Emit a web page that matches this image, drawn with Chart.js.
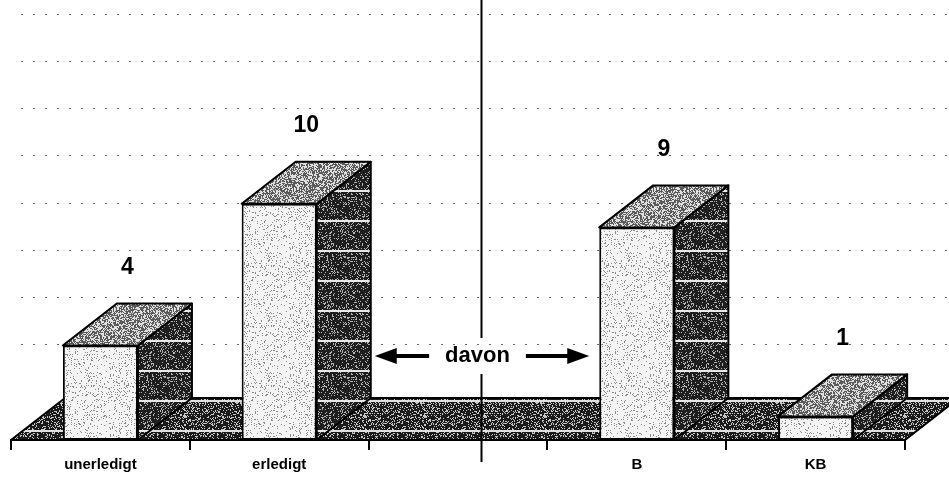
<!DOCTYPE html>
<html>
<head>
<meta charset="utf-8">
<script src="https://cdn.jsdelivr.net/npm/chart.js@4/dist/chart.umd.min.js"></script>
<style>
html, body { margin: 0; padding: 0; background: #fff; }
#wrap { width: 949px; height: 478px; }
</style>
</head>
<body>
<div id="wrap"><canvas id="chart" width="949" height="478"></canvas></div>
<script>
let categories = ['unerledigt', 'erledigt', '', 'B', 'KB'];
let counts = [4, 10, null, 9, 1];
let wall_grid_values = [2, 4, 6, 8, 10, 12, 14, 16];
let divider_label = 'davon';

// extrusion offset of the 3d boxes
let depth_x = 54, depth_y = -42;

let hash = function(x, y, seed) {
    let h = (x * 374761393 + y * 668265263 + seed * 982451653) | 0;
    h = Math.imul(h ^ (h >>> 13), 1274126177);
    h = h ^ (h >>> 16);
    return ((h >>> 0) % 1000) / 1000;
};

// stippled texture like the scanned original
let make_pattern = function(base, dot, density, seed, stripe) {
    let c = document.createElement('canvas');
    c.width = 60; c.height = 60;
    let g = c.getContext('2d');
    g.fillStyle = base;
    g.fillRect(0, 0, 60, 60);
    g.fillStyle = dot;
    for (let y = 0; y < 60; y++) {
        for (let x = 0; x < 60; x++) {
            if (hash(x, y, seed) < density) g.fillRect(x, y, 1, 1);
        }
    }
    if (stripe) {
        g.fillStyle = stripe;
        g.fillRect(0, 10, 60, 2);
        g.fillRect(0, 40, 60, 2);
    }
    return g.createPattern(c, 'repeat');
};

let front_fill = make_pattern('#f4f4f4', '#8a8a8a', 0.12, 1);
let side_fill = make_pattern('#1e1e1e', '#b5b5b5', 0.2, 2, '#e8e8e8');
let top_fill = make_pattern('#5a5a5a', '#e0e0e0', 0.45, 3);
let floor_fill = make_pattern('#1a1a1a', '#c8c8c8', 0.26, 4, '#e0e0e0');

let poly = function(ctx, pts, fill) {
    ctx.beginPath();
    ctx.moveTo(pts[0][0], pts[0][1]);
    for (let i = 1; i < pts.length; i++) ctx.lineTo(pts[i][0], pts[i][1]);
    ctx.closePath();
    ctx.fillStyle = fill;
    ctx.fill();
    ctx.stroke();
};

let arrow = function(ctx, from_x, to_x, y) {
    let dir = Math.sign(to_x - from_x);
    let head = 22;
    ctx.beginPath();
    ctx.moveTo(from_x, y - 2);
    ctx.lineTo(to_x - dir * head, y - 2);
    ctx.lineTo(to_x - dir * head, y - 8);
    ctx.lineTo(to_x, y);
    ctx.lineTo(to_x - dir * head, y + 8);
    ctx.lineTo(to_x - dir * head, y + 2);
    ctx.lineTo(from_x, y + 2);
    ctx.closePath();
    ctx.fill();
};

let box_plugin = {
    id: 'box3d',
    beforeDatasetsDraw(chart) {
        let ctx = chart.ctx, a = chart.chartArea, ys = chart.scales.y;
        let y0 = ys.getPixelForValue(0);
        ctx.save();
        // dotted grid on the back wall
        ctx.strokeStyle = '#666';
        ctx.lineWidth = 1;
        ctx.setLineDash([2, 10]);
        wall_grid_values.forEach(v => {
            let py = Math.round(ys.getPixelForValue(v) + depth_y * 1.15) + 0.5;
            ctx.beginPath();
            ctx.moveTo(a.left + 10, py);
            ctx.lineTo(a.right + depth_x, py);
            ctx.stroke();
        });
        ctx.setLineDash([]);
        // floor
        ctx.strokeStyle = '#000';
        ctx.lineWidth = 2;
        ctx.lineJoin = 'round';
        poly(ctx, [[a.left, y0], [a.right, y0], [a.right + depth_x, y0 + depth_y], [a.left + depth_x, y0 + depth_y]], floor_fill);
        ctx.restore();
    },
    afterDatasetsDraw(chart) {
        let ctx = chart.ctx, a = chart.chartArea, xs = chart.scales.x, ys = chart.scales.y;
        let bars = chart.getDatasetMeta(0).data;
        ctx.save();
        ctx.strokeStyle = '#000';
        ctx.lineWidth = 2;
        ctx.lineJoin = 'round';
        bars.forEach((bar, i) => {
            if (counts[i] === null) return;
            let p = bar.getProps(['x', 'y', 'base', 'width'], true);
            let l = p.x - p.width / 2, r = p.x + p.width / 2;
            poly(ctx, [[r, p.y], [r + depth_x, p.y + depth_y], [r + depth_x, p.base + depth_y], [r, p.base]], side_fill);
            poly(ctx, [[l, p.y], [r, p.y], [r + depth_x, p.y + depth_y], [l + depth_x, p.y + depth_y]], top_fill);
            ctx.fillStyle = '#000';
            ctx.font = 'bold 23px "Liberation Sans", Arial, sans-serif';
            ctx.textAlign = 'center';
            ctx.textBaseline = 'middle';
            ctx.fillText(String(counts[i]), p.x + depth_x / 2, p.y + depth_y - 36);
        });

        // divider with "davon" and arrows
        let y0 = ys.getPixelForValue(0);
        let div_x = Math.round(xs.getPixelForValue(2) + depth_x / 2 - 4) + 0.5;
        let ty = y0 + depth_y - 42;
        ctx.beginPath();
        ctx.moveTo(div_x, 0);
        ctx.lineTo(div_x, ty - 18);
        ctx.moveTo(div_x, ty + 18);
        ctx.lineTo(div_x, a.bottom + 22);
        ctx.stroke();
        ctx.font = 'bold 22px "Liberation Sans", Arial, sans-serif';
        ctx.textAlign = 'center';
        ctx.textBaseline = 'middle';
        let tw = ctx.measureText(divider_label).width;
        ctx.fillStyle = '#000';
        ctx.fillText(divider_label, div_x - 4, ty);
        let left_bar = bars[1].getProps(['x', 'width'], true);
        let right_bar = bars[3].getProps(['x', 'width'], true);
        arrow(ctx, div_x - 4 - tw / 2 - 16, left_bar.x + left_bar.width / 2 + depth_x + 4, ty);
        arrow(ctx, div_x - 4 + tw / 2 + 16, right_bar.x - right_bar.width / 2 - 10, ty);
        ctx.restore();
    }
};

new Chart(document.getElementById('chart').getContext('2d'), {
    type: 'bar',
    data: {
        labels: categories,
        datasets: [{
            data: counts,
            backgroundColor: front_fill,
            borderColor: '#000',
            borderWidth: 2,
            borderSkipped: false,
            barPercentage: 0.42,
            categoryPercentage: 1
        }]
    },
    options: {
        responsive: false,
        animation: false,
        layout: { padding: { left: 11, right: 44, top: 62, bottom: 0 } },
        plugins: { legend: { display: false }, tooltip: { enabled: false } },
        scales: {
            x: {
                offset: true,
                grid: { offset: true, drawOnChartArea: false, drawTicks: true, tickLength: 10, color: '#000', lineWidth: 2 },
                border: { display: true, color: '#000', width: 2 },
                ticks: { color: '#000', padding: 6, font: { family: '"Liberation Sans", Arial, sans-serif', size: 15, weight: 'bold' } },
                afterFit(scale) { scale.height = 38; }
            },
            y: {
                display: false,
                min: 0,
                max: 16
            }
        }
    },
    plugins: [box_plugin]
});
</script>
</body>
</html>
